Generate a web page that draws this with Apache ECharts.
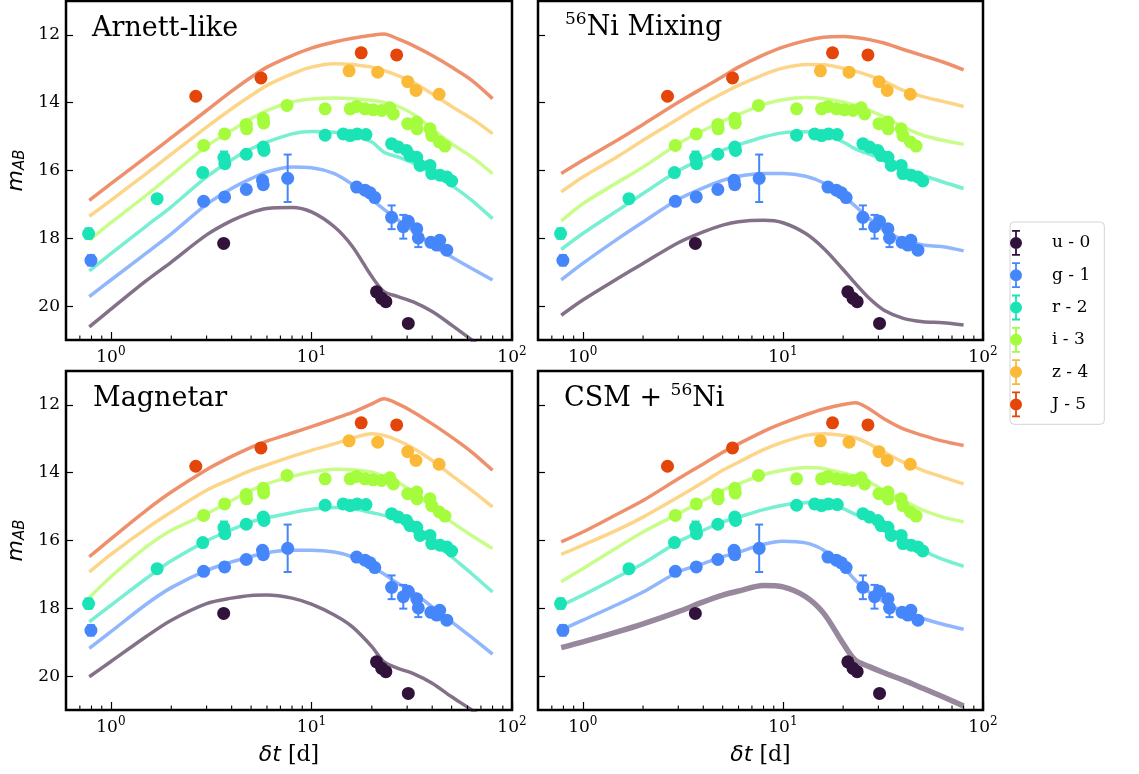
<!DOCTYPE html>
<html>
<head>
<meta charset="utf-8">
<script src="https://cdn.jsdelivr.net/npm/echarts@6/dist/echarts.min.js"></script>
<style>
  html, body { margin: 0; padding: 0; background: #fff; }
  #chart { width: 1139px; height: 774px; }
</style>
</head>
<body>
<div id="chart"></div>
<script>
// Photometric bands, in legend order
const bandNames = ['u - 0', 'g - 1', 'r - 2', 'i - 3', 'z - 4', 'J - 5'];
const bandColors = ['#30123b', '#4686fb', '#1ae4b6', '#a4fc3c', '#fbb938', '#e4460a'];

// Tick values
const yTickValues = [12, 14, 16, 18, 20];
const minorTickDays = [0.7, 0.8, 0.9, 2, 3, 4, 5, 6, 7, 8, 9, 20, 30, 40, 50, 60, 70, 80, 90];

// Observed photometry: [days since explosion, AB magnitude, 1-sigma error]
const uObs = [[3.65, 18.15, 0.05], [21.1, 19.58, 0.05], [22.4, 19.77, 0.05], [23.5, 19.87, 0.05], [30.4, 20.51, 0.05]];
const gObs = [[0.795, 18.65, 0.15], [2.90, 16.91, 0.05], [3.69, 16.78, 0.05], [4.73, 16.56, 0.05], [5.70, 16.29, 0.05],
  [5.75, 16.42, 0.05], [7.61, 16.23, 0.70], [16.8, 16.49, 0.05], [18.5, 16.58, 0.05], [19.6, 16.66, 0.05],
  [20.7, 16.80, 0.05], [25.1, 17.38, 0.35], [28.7, 17.66, 0.35], [30.4, 17.50, 0.05], [33.5, 17.72, 0.05],
  [34.1, 17.99, 0.27], [39.4, 18.12, 0.05], [42.1, 18.20, 0.05], [43.6, 18.06, 0.05], [47.3, 18.35, 0.05]];
const rObs = [[0.774, 17.86, 0.15], [1.70, 16.83, 0.05], [2.87, 16.06, 0.05], [3.66, 15.62, 0.18], [3.70, 15.80, 0.05],
  [4.73, 15.52, 0.05], [5.75, 15.31, 0.05], [5.80, 15.41, 0.05], [11.7, 14.96, 0.05], [14.4, 14.92, 0.05],
  [15.6, 14.97, 0.05], [16.9, 14.92, 0.05], [18.7, 14.94, 0.05], [25.1, 15.21, 0.05], [27.1, 15.31, 0.05],
  [29.8, 15.41, 0.05], [31.0, 15.56, 0.05], [33.5, 15.61, 0.05], [34.8, 15.85, 0.05], [39.0, 15.85, 0.05],
  [39.8, 16.09, 0.05], [43.8, 16.14, 0.05], [47.3, 16.19, 0.05], [50.0, 16.31, 0.05]];
const iObs = [[2.90, 15.26, 0.05], [3.69, 14.92, 0.05], [4.73, 14.64, 0.05], [4.75, 14.77, 0.05], [5.75, 14.46, 0.05],
  [5.78, 14.60, 0.05], [7.55, 14.08, 0.05], [11.7, 14.18, 0.05], [15.6, 14.18, 0.05], [16.8, 14.11, 0.05],
  [18.5, 14.18, 0.05], [20.3, 14.21, 0.05], [22.4, 14.23, 0.05], [24.6, 14.15, 0.05], [25.6, 14.33, 0.05],
  [30.2, 14.62, 0.05], [33.5, 14.57, 0.05], [33.6, 14.77, 0.05], [39.0, 14.77, 0.05], [39.8, 14.97, 0.05],
  [43.4, 15.16, 0.05], [46.3, 15.28, 0.05]];
const zObs = [[15.4, 13.06, 0.05], [21.4, 13.10, 0.05], [30.2, 13.38, 0.05], [33.2, 13.64, 0.05], [43.3, 13.75, 0.05]];
const JObs = [[2.65, 13.81, 0.05], [5.60, 13.27, 0.05], [17.7, 12.53, 0.05], [26.6, 12.59, 0.05]];

// Model light curves, sampled at these epochs (days)
const modelDays = [0.78, 1, 1.5, 2, 3, 4, 5, 6, 8, 10, 13, 16, 20, 23, 27, 32, 40, 50, 63, 80];

const arnettU = [20.61, 20.09, 19.25, 18.70, 17.90, 17.48, 17.24, 17.12, 17.09, 17.22, 17.66, 18.24, 19.13, 19.57, 19.72, 19.87, 20.16, 20.56, 21.00, 21.49];
const arnettG = [19.72, 19.23, 18.44, 17.87, 17.00, 16.53, 16.24, 16.04, 15.90, 15.92, 16.09, 16.41, 16.86, 17.15, 17.46, 17.76, 18.20, 18.55, 18.89, 19.23];
const arnettR = [18.96, 18.45, 17.64, 17.07, 16.19, 15.68, 15.36, 15.16, 14.92, 14.85, 14.87, 14.96, 15.16, 15.46, 15.60, 15.78, 16.09, 16.44, 16.88, 17.42];
const arnettI = [18.05, 17.54, 16.73, 16.13, 15.28, 14.82, 14.47, 14.23, 13.98, 13.89, 13.86, 13.88, 13.93, 13.99, 14.11, 14.33, 14.77, 15.21, 15.60, 16.09];
const arnettZ = [17.35, 16.88, 16.09, 15.52, 14.72, 14.18, 13.79, 13.49, 13.15, 12.95, 12.85, 12.87, 12.95, 13.05, 13.20, 13.39, 13.74, 14.11, 14.47, 14.91];
const arnettJ = [16.88, 16.39, 15.60, 15.03, 14.23, 13.66, 13.25, 12.95, 12.61, 12.39, 12.21, 12.10, 12.01, 11.97, 12.12, 12.31, 12.61, 12.95, 13.34, 13.88];

const mixingU = [20.27, 19.82, 19.18, 18.74, 18.13, 17.81, 17.61, 17.51, 17.47, 17.54, 17.86, 18.30, 18.92, 19.33, 19.77, 20.12, 20.36, 20.46, 20.49, 20.56];
const mixingG = [19.23, 18.74, 18.01, 17.52, 16.85, 16.51, 16.29, 16.17, 16.09, 16.09, 16.17, 16.37, 16.76, 17.05, 17.42, 17.76, 18.05, 18.20, 18.25, 18.37];
const mixingR = [18.33, 17.86, 17.17, 16.68, 16.01, 15.65, 15.40, 15.24, 15.01, 14.89, 14.86, 14.93, 15.16, 15.36, 15.52, 15.68, 15.92, 16.14, 16.34, 16.53];
const mixingI = [17.49, 16.98, 16.34, 15.90, 15.21, 14.82, 14.54, 14.35, 14.05, 13.91, 13.85, 13.88, 13.98, 14.08, 14.23, 14.42, 14.72, 14.96, 15.11, 15.23];
const mixingZ = [16.63, 16.19, 15.58, 15.11, 14.47, 14.03, 13.72, 13.49, 13.17, 12.98, 12.87, 12.88, 12.98, 13.07, 13.20, 13.36, 13.64, 13.82, 13.96, 14.11];
const mixingJ = [16.09, 15.70, 15.09, 14.64, 13.99, 13.56, 13.23, 12.95, 12.59, 12.36, 12.17, 12.07, 12.05, 12.08, 12.14, 12.24, 12.43, 12.61, 12.80, 13.03];

const magnetarU = [20.02, 19.57, 18.83, 18.35, 17.86, 17.70, 17.62, 17.61, 17.70, 17.88, 18.20, 18.55, 19.13, 19.58, 19.77, 19.92, 20.21, 20.61, 21.00, 21.44];
const magnetarG = [19.18, 18.69, 17.88, 17.39, 16.88, 16.63, 16.47, 16.36, 16.29, 16.29, 16.34, 16.48, 16.78, 16.99, 17.27, 17.52, 17.96, 18.40, 18.86, 19.35];
const magnetarR = [18.40, 17.91, 17.12, 16.60, 16.01, 15.68, 15.45, 15.33, 15.18, 15.08, 15.03, 15.06, 15.18, 15.26, 15.41, 15.60, 15.99, 16.48, 16.98, 17.52];
const magnetarI = [17.68, 17.07, 16.19, 15.70, 15.21, 14.82, 14.52, 14.33, 14.11, 13.98, 13.90, 13.91, 13.98, 14.11, 14.28, 14.57, 15.01, 15.46, 15.85, 16.24];
const magnetarZ = [16.93, 16.41, 15.65, 15.16, 14.52, 14.18, 13.93, 13.77, 13.52, 13.34, 13.15, 12.98, 12.85, 12.90, 13.05, 13.27, 13.64, 14.08, 14.52, 15.01];
const magnetarJ = [16.48, 15.95, 15.11, 14.57, 13.91, 13.52, 13.25, 13.07, 12.83, 12.64, 12.41, 12.22, 11.97, 11.82, 11.97, 12.20, 12.56, 12.95, 13.39, 13.93];

const csmU = [19.16, 18.99, 18.69, 18.46, 18.10, 17.81, 17.61, 17.49, 17.33, 17.37, 17.66, 18.15, 19.04, 19.53, 19.72, 19.90, 20.12, 20.36, 20.61, 20.88];
const csmG = [18.64, 18.35, 17.88, 17.52, 16.93, 16.68, 16.48, 16.34, 16.11, 16.02, 16.07, 16.29, 16.78, 17.17, 17.52, 17.81, 18.10, 18.30, 18.47, 18.62];
const csmR = [17.91, 17.61, 17.07, 16.68, 16.04, 15.70, 15.45, 15.31, 15.09, 14.96, 14.89, 14.89, 15.06, 15.23, 15.39, 15.55, 15.90, 16.29, 16.56, 16.76];
const csmI = [17.22, 16.83, 16.19, 15.75, 15.21, 14.82, 14.52, 14.33, 14.06, 13.93, 13.85, 13.88, 14.01, 14.11, 14.28, 14.52, 14.82, 15.10, 15.31, 15.45];
const csmZ = [16.41, 16.14, 15.68, 15.31, 14.72, 14.28, 13.93, 13.69, 13.32, 13.10, 12.90, 12.85, 12.90, 12.97, 13.15, 13.39, 13.69, 13.93, 14.13, 14.33];
const csmJ = [16.04, 15.75, 15.21, 14.82, 14.18, 13.74, 13.40, 13.15, 12.78, 12.54, 12.29, 12.12, 11.99, 11.94, 12.12, 12.41, 12.71, 12.90, 13.07, 13.20];

const observations = [uObs, gObs, rObs, iObs, zObs, JObs];
const panels = [
  { title: 'Arnett-like', models: [arnettU, arnettG, arnettR, arnettI, arnettZ, arnettJ] },
  { title: '{s|56}{b|Ni Mixing}', models: [mixingU, mixingG, mixingR, mixingI, mixingZ, mixingJ] },
  { title: 'Magnetar', models: [magnetarU, magnetarG, magnetarR, magnetarI, magnetarZ, magnetarJ] },
  { title: '{b|CSM + }{s|56}{b|Ni}', models: [csmU, csmG, csmR, csmI, csmZ, csmJ] }
];

// Layout of the 2x2 panel grid
const gridBoxes = [
  { left: 66, top: 1, width: 446, height: 339 },
  { left: 538, top: 1, width: 445, height: 339 },
  { left: 66, top: 371, width: 446, height: 339 },
  { left: 538, top: 371, width: 445, height: 339 }
];
const titlePos = [
  { left: 87, top: 10 },
  { left: 560, top: 6 },
  { left: 88, top: 380 },
  { left: 559, top: 377 }
];

const SERIF = 'DejaVu Serif';
const SANS = 'DejaVu Sans';

// Marker with an error bar, used as legend glyph
const errIcon = 'path://M-6,0 A6,6 0 1,1 6,0 A6,6 0 1,1 -6,0 Z ' +
  'M-0.9,-12 L0.9,-12 L0.9,12 L-0.9,12 Z ' +
  'M-4,-12.9 L4,-12.9 L4,-11.1 L-4,-11.1 Z ' +
  'M-4,11.1 L4,11.1 L4,12.9 L-4,12.9 Z';

const titleRich = {
  b: { fontFamily: SERIF, fontSize: 27, color: '#000' },
  s: { fontFamily: SERIF, fontSize: 17, color: '#000', padding: [0, 0, 17, 0] }
};

function powerLabel(v) {
  const e = Math.log10(v);
  const r = Math.round(e);
  if (Math.abs(e - r) > 1e-6) return '';
  return '{b|10}{s|' + r + '}';
}

const grids = [], xAxes = [], yAxes = [], series = [], titles = [];

panels.forEach((panel, p) => {
  grids.push(Object.assign({ show: true, borderColor: '#000', borderWidth: 2.5, backgroundColor: 'transparent' }, gridBoxes[p]));

  titles.push(Object.assign({
    text: panel.title,
    textStyle: { fontFamily: SERIF, fontSize: 27, fontWeight: 'normal', color: '#000', rich: titleRich }
  }, titlePos[p]));

  xAxes.push({
    type: 'log', logBase: 10, gridIndex: p, min: 0.597, max: 100,
    axisLine: { show: false },
    axisTick: { show: true, inside: true, length: 8, lineStyle: { color: '#000', width: 1.2 } },
    minorTick: { show: false },
    splitLine: { show: false },
    axisLabel: {
      margin: 6, showMinLabel: false, formatter: powerLabel,
      rich: {
        b: { fontFamily: SERIF, fontSize: 17, color: '#000' },
        s: { fontFamily: SERIF, fontSize: 12, color: '#000', padding: [0, 0, 11, 0] }
      }
    },
    name: p >= 2 ? '{i|δt} {r|[d]}' : '',
    nameLocation: 'middle', nameGap: 34,
    nameTextStyle: {
      fontFamily: SERIF, fontSize: 22, color: '#000',
      rich: {
        i: { fontFamily: SANS, fontStyle: 'italic', fontSize: 22, color: '#000' },
        r: { fontFamily: SERIF, fontSize: 22, color: '#000' }
      }
    }
  });

  yAxes.push({
    type: 'value', gridIndex: p, inverse: true, min: 11, max: 21,
    axisLine: { show: false },
    axisTick: { show: true, inside: true, length: 7, customValues: yTickValues, lineStyle: { color: '#000', width: 1.2 } },
    splitLine: { show: false },
    axisLabel: {
      show: p % 2 === 0, margin: 6, customValues: yTickValues,
      fontFamily: SERIF, fontSize: 17, color: '#000'
    },
    name: p % 2 === 0 ? '{m|m}{s|AB}' : '',
    nameLocation: 'middle', nameGap: 38,
    nameTextStyle: {
      rich: {
        m: { fontFamily: SANS, fontStyle: 'italic', fontSize: 22, color: '#000' },
        s: { fontFamily: SANS, fontStyle: 'italic', fontSize: 15, color: '#000', padding: [8, 0, 0, 0] }
      }
    }
  });

  // model light curves
  panel.models.forEach((mags, b) => {
    const wideBand = (p === 3 && b === 0);
    series.push({
      type: 'line', name: 'model ' + p + '-' + b,
      xAxisIndex: p, yAxisIndex: p,
      data: modelDays.map((t, k) => [t, mags[k]]),
      showSymbol: false, smooth: 0.3,
      lineStyle: { color: bandColors[b], width: wideBand ? 5.5 : 3.5, opacity: wideBand ? 0.5 : 0.6 },
      z: 2, silent: true, clip: true
    });
  });

  // error bars
  const errData = [];
  observations.forEach((obs, b) => obs.forEach(d => { if (d[2] > 0.1) errData.push([d[0], d[1], d[2], b]); }));
  series.push({
    type: 'custom', name: 'errors ' + p, xAxisIndex: p, yAxisIndex: p,
    data: errData, encode: { x: 0, y: 1 }, z: 3, silent: true,
    renderItem: (params, api) => {
      const t = api.value(0), m = api.value(1), e = api.value(2);
      const col = bandColors[api.value(3)];
      const a = api.coord([t, m - e]);
      const c = api.coord([t, m + e]);
      const st = { stroke: col, lineWidth: 2 };
      return {
        type: 'group', children: [
          { type: 'line', shape: { x1: a[0], y1: a[1], x2: c[0], y2: c[1] }, style: st },
          { type: 'line', shape: { x1: a[0] - 4, y1: a[1], x2: a[0] + 4, y2: a[1] }, style: st },
          { type: 'line', shape: { x1: c[0] - 4, y1: c[1], x2: c[0] + 4, y2: c[1] }, style: st }
        ]
      };
    }
  });

  // observed points
  observations.forEach((obs, b) => {
    series.push({
      type: 'scatter', name: bandNames[b], xAxisIndex: p, yAxisIndex: p,
      data: obs.map(d => [d[0], d[1]]),
      symbol: 'circle', symbolSize: 13,
      itemStyle: { color: bandColors[b], opacity: 1 },
      z: 4, silent: true
    });
  });

  // minor ticks of the logarithmic time axis
  series.push({
    type: 'custom', name: 'minor ticks ' + p, xAxisIndex: p, yAxisIndex: p,
    data: minorTickDays.map(t => [t, 21]), encode: { x: 0, y: 1 }, z: 5, silent: true,
    renderItem: (params, api) => {
      const pt = api.coord([api.value(0), api.value(1)]);
      return { type: 'line', shape: { x1: pt[0], y1: pt[1], x2: pt[0], y2: pt[1] - 4.5 }, style: { stroke: '#000', lineWidth: 1.1 } };
    }
  });
});

const chart = echarts.init(document.getElementById('chart'), null, { renderer: 'canvas' });
chart.setOption({
  animation: false,
  backgroundColor: '#fff',
  title: titles,
  grid: grids,
  xAxis: xAxes,
  yAxis: yAxes,
  legend: {
    orient: 'vertical', left: 1010, top: 222,
    data: bandNames.map(n => ({ name: n, icon: errIcon })),
    itemWidth: 62, itemHeight: 25.8, itemGap: 6.5,
    padding: [8, 14, 7, 0],
    borderColor: '#d4d4d4', borderWidth: 1, borderRadius: 4, backgroundColor: '#fff',
    textStyle: { fontFamily: SERIF, fontSize: 17, color: '#000' },
    selectedMode: false
  },
  series: series
});
</script>
</body>
</html>
